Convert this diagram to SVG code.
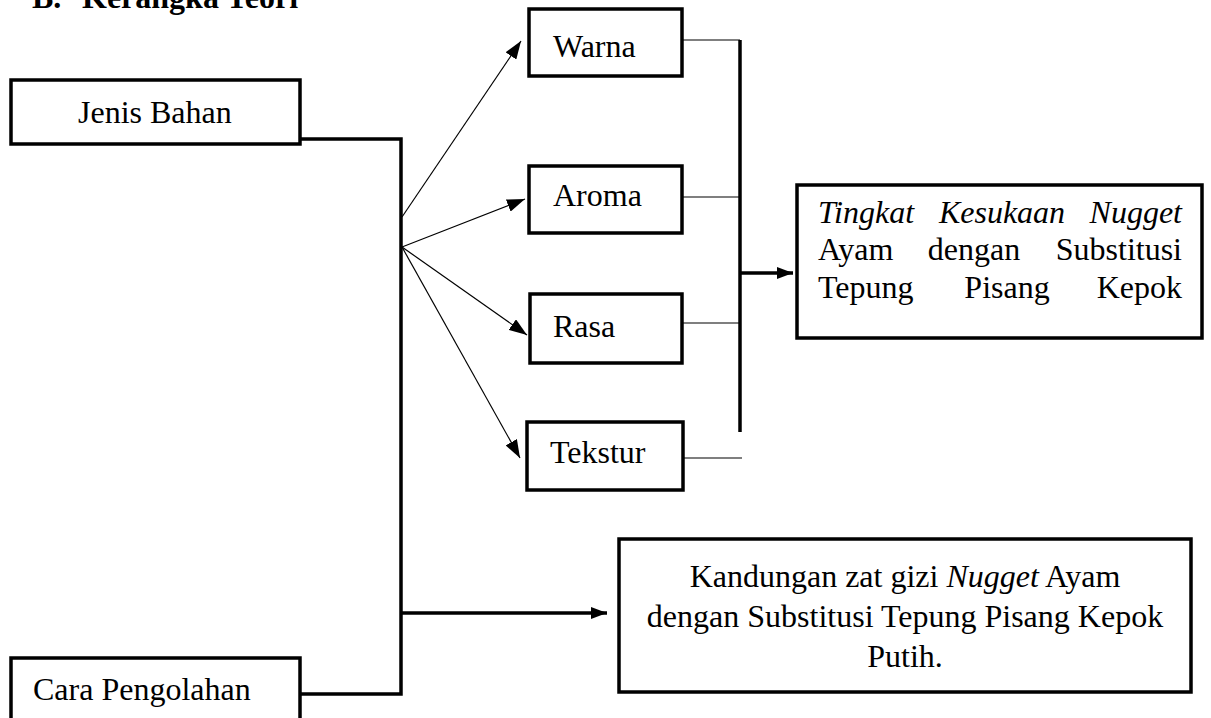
<svg xmlns="http://www.w3.org/2000/svg" width="1211" height="718" viewBox="0 0 1211 718">
<style>
text{font-family:"Liberation Serif","Times New Roman",serif;font-size:32px;fill:#000}
.title{font-weight:bold}
.box{fill:#fff;stroke:#000;stroke-width:3.5}
.thick{fill:none;stroke:#000;stroke-width:3.5}
.thin{fill:none;stroke:#000;stroke-width:1.2}
.it{font-style:italic}
</style>
<defs>
<marker id="ah" viewBox="0 0 18 13" refX="18" refY="6.5" markerWidth="18" markerHeight="13" markerUnits="userSpaceOnUse" orient="auto">
<path d="M0,0 L18,6.5 L0,13 Z" fill="#000"/>
</marker>
<marker id="ahb" viewBox="0 0 16 12" refX="16" refY="6" markerWidth="16" markerHeight="12" markerUnits="userSpaceOnUse" orient="auto">
<path d="M0,0 L16,6 L0,12 Z" fill="#000"/>
</marker>
</defs>
<rect width="1211" height="718" fill="#fff"/>
<text class="title" x="32" y="8">B.<tspan x="82">Kerangka Teori</tspan></text>

<g id="connectors">
<polyline class="thick" points="300,139 401,139 401,694 300,694"/>
<line class="thick" x1="401" y1="613" x2="607" y2="613" marker-end="url(#ahb)"/>
<line class="thin" x1="402" y1="217" x2="521" y2="41" marker-end="url(#ah)"/>
<line class="thin" x1="402" y1="247" x2="525" y2="199" marker-end="url(#ah)"/>
<line class="thin" x1="402" y1="247" x2="527" y2="335" marker-end="url(#ah)"/>
<line class="thin" x1="402" y1="247" x2="520" y2="458" marker-end="url(#ah)"/>
<line class="thin" x1="682" y1="40" x2="740" y2="40"/>
<line class="thin" x1="682" y1="197" x2="740" y2="197"/>
<line class="thin" x1="682" y1="323" x2="740" y2="323"/>
<line class="thin" x1="683" y1="458" x2="742" y2="458"/>
<line class="thick" x1="740" y1="40" x2="740" y2="432"/>
<line class="thick" x1="740" y1="273" x2="793" y2="273" marker-end="url(#ahb)"/>
</g>

<g id="jenis-bahan">
<rect class="box" x="11" y="80" width="289" height="64"/>
<text x="78" y="123">Jenis Bahan</text>
</g>

<g id="cara-pengolahan">
<rect class="box" x="11" y="658" width="289" height="70"/>
<text x="33" y="700">Cara Pengolahan</text>
</g>

<g id="warna">
<rect class="box" x="529" y="9" width="153" height="67"/>
<text x="553" y="57">Warna</text>
</g>

<g id="aroma">
<rect class="box" x="529" y="166" width="153" height="67"/>
<text x="553" y="206">Aroma</text>
</g>

<g id="rasa">
<rect class="box" x="530" y="294" width="152" height="69"/>
<text x="553" y="337">Rasa</text>
</g>

<g id="tekstur">
<rect class="box" x="527" y="422" width="156" height="68"/>
<text x="550" y="463">Tekstur</text>
</g>

<g id="tingkat-kesukaan">
<rect class="box" x="797" y="185" width="405" height="153"/>
<text class="it" x="818" y="223">Tingkat</text>
<text class="it" x="1002" y="223" text-anchor="middle">Kesukaan</text>
<text class="it" x="1182" y="223" text-anchor="end">Nugget</text>
<text x="818" y="260">Ayam</text>
<text x="974" y="260" text-anchor="middle">dengan</text>
<text x="1182" y="260" text-anchor="end">Substitusi</text>
<text x="818" y="298">Tepung</text>
<text x="1007" y="298" text-anchor="middle">Pisang</text>
<text x="1182" y="298" text-anchor="end">Kepok</text>
</g>

<g id="kandungan-gizi">
<rect class="box" x="619" y="539" width="572" height="153"/>
<text x="905" y="587" text-anchor="middle">Kandungan zat gizi <tspan class="it">Nugget</tspan> Ayam</text>
<text x="905" y="627" text-anchor="middle">dengan Substitusi Tepung Pisang Kepok</text>
<text x="905" y="667" text-anchor="middle">Putih.</text>
</g>
</svg>
